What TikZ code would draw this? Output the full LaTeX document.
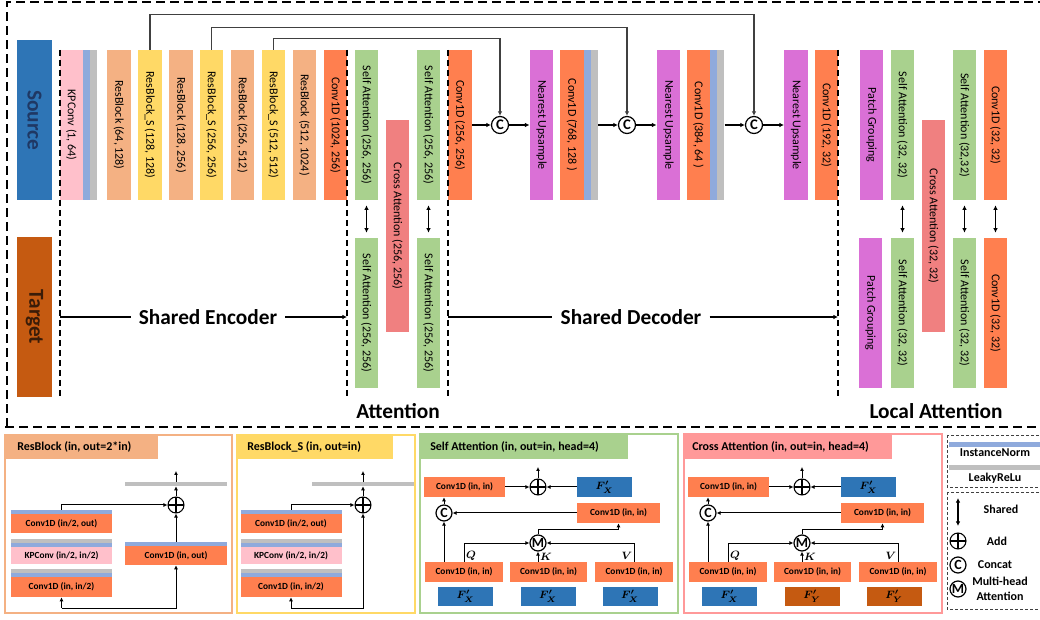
\documentclass[tikz,border=0pt]{standalone}
\usepackage{fontspec}
\setmainfont{Carlito}
\usepackage{graphicx}
\usetikzlibrary{arrows.meta,calc}
\newlength{\pxu}\setlength{\pxu}{0.75pt}
\definecolor{srcblue}{HTML}{2E75B6}
\definecolor{tgtbrown}{HTML}{C55A11}
\definecolor{kppink}{HTML}{FFC0CB}
\definecolor{rbor}{HTML}{F4B183}
\definecolor{rbyel}{HTML}{FFD966}
\definecolor{convor}{HTML}{FF7F4F}
\definecolor{attgr}{HTML}{A9D18E}
\definecolor{crossr}{HTML}{F08080}
\definecolor{upmag}{HTML}{DA70D6}
\definecolor{normbl}{HTML}{8FAADC}
\definecolor{relugr}{HTML}{BFBFBF}
\definecolor{crosspanel}{HTML}{FF9999}
\definecolor{srctext}{HTML}{1F3864}
\definecolor{tgttext}{HTML}{3A1C08}
\definecolor{skipgr}{HTML}{404040}
\tikzset{
 vb/.style={rectangle, inner sep=0pt, minimum width=23.5\pxu, minimum height=150\pxu, font=\fontsize{9}{10}\selectfont, text=black},
 vbx/.style={vb, minimum height=212\pxu},
 strip/.style={rectangle, inner sep=0pt, minimum width=7\pxu, minimum height=150\pxu},
 sidebox/.style={rectangle, inner sep=0pt, minimum width=35\pxu, minimum height=160\pxu, font=\bfseries\fontsize{16}{18}\selectfont},
 cc/.style={circle, draw, line width=0.9pt, minimum size=17\pxu, inner sep=0pt, font=\bfseries\fontsize{11}{11}\selectfont},
 ccs/.style={cc, minimum size=16\pxu, font=\bfseries\fontsize{10.5}{11}\selectfont},
 addc/.style={circle, draw, line width=0.8pt, minimum size=16\pxu, inner sep=0pt,
   path picture={\draw[line width=0.8pt] (path picture bounding box.north) -- (path picture bounding box.south) (path picture bounding box.west) -- (path picture bounding box.east);}},
 arr/.style={-{Latex[length=3.4pt,width=3.4pt]}, line width=0.8pt},
 sarr/.style={-{Latex[length=3pt,width=3pt]}, line width=0.75pt},
 skipl/.style={line width=0.8pt, draw=skipgr, -{Latex[length=3.4pt,width=3.4pt]}},
 dbl/.style={{Latex[length=3.4pt,width=3.4pt]}-{Latex[length=3.4pt,width=3.4pt]}, line width=0.9pt, shorten >=5\pxu, shorten <=5\pxu},
 outerd/.style={line width=1.5pt, dash pattern=on 6.75pt off 3.75pt},
 innerd/.style={line width=1pt, dash pattern=on 4.5pt off 3pt},
 legd/.style={line width=0.6pt, dash pattern=on 2.25pt off 1.5pt, draw=black!75},
 big/.style={font=\bfseries\fontsize{16}{18}\selectfont, inner sep=6pt},
 hb/.style={rectangle, inner sep=0pt, minimum height=19\pxu, font=\bfseries\fontsize{7}{8}\selectfont},
 thin/.style={rectangle, inner sep=0pt, minimum height=4\pxu, minimum width=101\pxu},
 hdr/.style={font=\bfseries\fontsize{9}{10}\selectfont, anchor=west, inner sep=0pt},
 fx/.style={rectangle, inner sep=0pt, minimum width=55\pxu, minimum height=19\pxu, font=\boldmath\fontsize{8}{9}\selectfont, text=black},
 leg/.style={font=\bfseries\fontsize{9}{11}\selectfont, align=center},
 qkv/.style={font=\boldmath\fontsize{8}{9}\selectfont, inner sep=0pt},
}
\begin{document}
\begin{tikzpicture}[x=0.75pt,y=-0.75pt]
\useasboundingbox (0,0) rectangle (1040,620);

% ---------------- top part ----------------
\node[sidebox, fill=srcblue, text=srctext] (src) at (34.5,120) {\rotatebox{-90}{Source}};
\node[sidebox, fill=tgtbrown, text=tgttext] (tgt) at (34.5,317) {\rotatebox{-90}{Target}};

\node[vb, fill=kppink] (kp) at (71.5,125) {\rotatebox{-90}{KPConv (1, 64)}};
\node[strip, fill=normbl] (kpn) at (86.75,125) {};
\node[strip, fill=relugr] (kpr) at (93.75,125) {};
\node[vb, fill=rbor] (rb1) at (119,125) {\rotatebox{-90}{ResBlock (64, 128)}};
\node[vb, fill=rbyel] (rbs1) at (150,125) {\rotatebox{-90}{ResBlock\_S (128, 128)}};
\node[vb, fill=rbor] (rb2) at (181,125) {\rotatebox{-90}{ResBlock (128, 256)}};
\node[vb, fill=rbyel] (rbs2) at (211.5,125) {\rotatebox{-90}{ResBlock\_S (256, 256)}};
\node[vb, fill=rbor] (rb3) at (242.5,125) {\rotatebox{-90}{ResBlock (256, 512)}};
\node[vb, fill=rbyel] (rbs3) at (273.5,125) {\rotatebox{-90}{ResBlock\_S (512, 512)}};
\node[vb, fill=rbor] (rb4) at (304.5,125) {\rotatebox{-90}{ResBlock (512, 1024)}};
\node[vb, fill=convor] (cv1) at (335.5,125) {\rotatebox{-90}{Conv1D (1024, 256)}};

\node[vb, fill=attgr] (sa1) at (366.5,125) {\rotatebox{-90}{Self Attention (256, 256)}};
\node[vb, fill=attgr] (sa1b) at (366.5,313) {\rotatebox{-90}{Self Attention (256, 256)}};
\node[vbx, fill=crossr] (ca1) at (397.5,226) {\rotatebox{-90}{Cross Attention (256, 256)}};
\node[vb, fill=attgr] (sa2) at (428.5,125) {\rotatebox{-90}{Self Attention (256, 256)}};
\node[vb, fill=attgr] (sa2b) at (428.5,313) {\rotatebox{-90}{Self Attention (256, 256)}};

\node[vb, fill=convor] (cv2) at (460,125) {\rotatebox{-90}{Conv1D (256, 256)}};
\node[cc] (cc1) at (500,125) {C};
\node[vb, fill=upmag] (up1) at (541.5,125) {\rotatebox{-90}{Nearest Upsample}};
\node[vb, fill=convor] (cv3) at (572,125) {\rotatebox{-90}{Conv1D (768, 128 )}};
\node[strip, fill=normbl] (cv3n) at (587.25,125) {};
\node[strip, fill=relugr] (cv3r) at (594.25,125) {};
\node[cc] (cc2) at (627,125) {C};
\node[vb, fill=upmag] (up2) at (668.5,125) {\rotatebox{-90}{Nearest Upsample}};
\node[vb, fill=convor] (cv4) at (698.5,125) {\rotatebox{-90}{Conv1D (384, 64 )}};
\node[strip, fill=normbl] (cv4n) at (713.75,125) {};
\node[strip, fill=relugr] (cv4r) at (720.75,125) {};
\node[cc] (cc3) at (754,125) {C};
\node[vb, fill=upmag] (up3) at (796,125) {\rotatebox{-90}{Nearest Upsample}};
\node[vb, fill=convor] (cv5) at (826.5,125) {\rotatebox{-90}{Conv1D (192, 32)}};

\node[vb, fill=upmag] (pg1) at (871.5,125) {\rotatebox{-90}{Patch Grouping}};
\node[vb, fill=upmag] (pg2) at (870.5,313) {\rotatebox{-90}{Patch Grouping}};
\node[vb, fill=attgr] (sa3) at (902.5,125) {\rotatebox{-90}{Self Attention (32, 32)}};
\node[vb, fill=attgr] (sa3b) at (902.5,313) {\rotatebox{-90}{Self Attention (32, 32)}};
\node[vbx, fill=crossr] (ca2) at (933.5,226) {\rotatebox{-90}{Cross Attention (32, 32)}};
\node[vb, fill=attgr] (sa4) at (964.5,125) {\rotatebox{-90}{Self Attention (32,32)}};
\node[vb, fill=attgr] (sa4b) at (964.5,313) {\rotatebox{-90}{Self Attention (32, 32)}};
\node[vb, fill=convor] (cv6) at (995.5,125) {\rotatebox{-90}{Conv1D (32, 32)}};
\node[vb, fill=convor] (cv6b) at (995.5,313) {\rotatebox{-90}{Conv1D (32, 32)}};

% decoder flow
\draw[arr] (cv2.east) -- (cc1.west);
\draw[arr] (cc1.east) -- (up1.west);
\draw[arr] (cv3r.east) -- (cc2.west);
\draw[arr] (cc2.east) -- (up2.west);
\draw[arr] (cv4r.east) -- (cc3.west);
\draw[arr] (cc3.east) -- (up3.west);

% skip connections
\draw[skipl] (rbs1.north) -- ++(0,-35) -| (cc3.north);
\draw[skipl] (rbs2.north) -- ++(0,-22) -| (cc2.north);
\draw[skipl] (rbs3.north) -- ++(0,-11) -| (cc1.north);

% shared arrows
\draw[dbl] (sa1.south) -- (sa1b.north);
\draw[dbl] (sa2.south) -- (sa2b.north);
\draw[dbl] (sa3.south) -- (sa3b.north);
\draw[dbl] (sa4.south) -- (sa4b.north);
\draw[dbl] (cv6.south) -- (cv6b.north);

% dashed separators
\draw[innerd] (60,50) -- (60,397);
\draw[innerd] (347,50) -- (347,397);
\draw[innerd] (448,50) -- (448,397);
\draw[innerd] (838,50) -- (838,397);

% labels
\node[big] (senc) at (208,317) {Shared Encoder};
\node[big] (sdec) at (631,317) {Shared Decoder};
\coordinate (e0) at (60,317);
\coordinate (e1) at (347,317);
\coordinate (d0) at (448,317);
\coordinate (d1) at (838,317);
\draw[line width=0.9pt] (e0) -- (senc.west);
\draw[arr, line width=0.9pt] (senc.east) -- (e1);
\draw[line width=0.9pt] (d0) -- (sdec.west);
\draw[arr, line width=0.9pt] (sdec.east) -- (d1);
\node[big, inner sep=0pt] (attl) at (398,411) {Attention};
\node[big, inner sep=0pt] (lattl) at (936,411) {Local Attention};

% outer dashed frame
\draw[outerd] (7,427) -- (7,2) -- (1040,2);
\draw[outerd] (5,427) -- (1040,427);

% ---------------- ResBlock panel ----------------
\draw[rbor, line width=1.5pt] (5,435) rectangle (232,613);
\fill[rbor] (5,435) rectangle (158,459);
\node[hdr] (h1) at (17,447) {ResBlock (in, out=2*in)};
\node[thin, fill=normbl] (p1c1n) at (61.5,512) {};
\node[hb, fill=convor, minimum width=101\pxu] (p1c1) at (61.5,523.5) {Conv1D (in/2, out)};
\node[thin, fill=relugr] (p1kr) at (61.5,541) {};
\node[thin, fill=normbl] (p1kn) at (61.5,545) {};
\node[hb, fill=kppink, minimum width=101\pxu, minimum height=17\pxu] (p1kp) at (61.5,555.5) {KPConv (in/2, in/2)};
\node[thin, fill=relugr] (p1c0r) at (61.5,571) {};
\node[thin, fill=normbl] (p1c0n) at (61.5,575) {};
\node[hb, fill=convor, minimum width=101\pxu, minimum height=20\pxu] (p1c0) at (61.5,587) {Conv1D (in, in/2)};
\node[thin, fill=normbl, minimum width=102\pxu] (p1crn) at (176,544) {};
\node[hb, fill=convor, minimum width=102\pxu] (p1cr) at (176,555.5) {Conv1D (in, out)};
\node[thin, fill=relugr, minimum width=102\pxu] (p1g) at (176,484) {};
\node[addc] (p1add) at (176,505) {};
\coordinate (p1in) at (61.5,608);
\coordinate (p1out) at (176,471);
\draw[sarr] (p1in) -- (p1c0.south);
\draw[sarr] (p1in) -| (p1cr.south);
\draw[sarr] (p1crn.north) -- (p1add.south);
\draw[sarr] (p1c1n.north) |- (p1add.west);
\draw[sarr] (p1add.north) -- (p1g.south);
\draw[sarr] (p1g.north) -- (p1out);

% ---------------- ResBlock_S panel ----------------
\draw[rbyel, line width=1.5pt] (237,435) rectangle (415,613);
\fill[rbyel] (237,435) rectangle (393,459);
\node[hdr] (h2) at (247,447) {ResBlock\_S (in, out=in)};
\node[thin, fill=normbl] (p2c1n) at (291,512) {};
\node[hb, fill=convor, minimum width=101\pxu] (p2c1) at (291,523.5) {Conv1D (in/2, out)};
\node[thin, fill=relugr] (p2kr) at (291,541) {};
\node[thin, fill=normbl] (p2kn) at (291,545) {};
\node[hb, fill=kppink, minimum width=101\pxu, minimum height=17\pxu] (p2kp) at (291,555.5) {KPConv (in/2, in/2)};
\node[thin, fill=relugr] (p2c0r) at (291,571) {};
\node[thin, fill=normbl] (p2c0n) at (291,575) {};
\node[hb, fill=convor, minimum width=101\pxu, minimum height=20\pxu] (p2c0) at (291,587) {Conv1D (in, in/2)};
\node[thin, fill=relugr, minimum width=102\pxu] (p2g) at (363,484) {};
\node[addc] (p2add) at (363,505) {};
\coordinate (p2in) at (291,608);
\coordinate (p2out) at (363,471);
\draw[sarr] (p2in) -- (p2c0.south);
\draw[sarr] (p2in) -| (p2add.south);
\draw[sarr] (p2c1n.north) |- (p2add.west);
\draw[sarr] (p2add.north) -- (p2g.south);
\draw[sarr] (p2g.north) -- (p2out);

% ---------------- Self Attention panel ----------------
\draw[attgr, line width=1.5pt] (420,434) rectangle (678,613);
\fill[attgr] (420,434) rectangle (628,459);
\node[hdr] (h3) at (430,447) {Self Attention (in, out=in, head=4)};
\node[hb, fill=convor, minimum width=81\pxu, minimum height=20\pxu] (so) at (464.5,487) {Conv1D (in, in)};
\node[addc] (sadd) at (538,487) {};
\node[fx, fill=srcblue, minimum height=20\pxu] (sfx) at (604.5,487) {$F'_X$};
\node[ccs] (sC) at (444,513) {C};
\node[hb, fill=convor, minimum width=83\pxu, minimum height=20\pxu] (smid) at (618.5,513) {Conv1D (in, in)};
\node[ccs] (sM) at (538,543) {M};
\node[hb, fill=convor, minimum width=78\pxu, minimum height=20\pxu] (sq) at (464,572) {Conv1D (in, in)};
\node[hb, fill=convor, minimum width=77\pxu, minimum height=20\pxu] (sk) at (548.5,572) {Conv1D (in, in)};
\node[hb, fill=convor, minimum width=78\pxu, minimum height=20\pxu] (sv) at (634,572) {Conv1D (in, in)};
\node[fx, fill=srcblue] (sx1) at (465.5,596) {$F'_X$};
\node[fx, fill=srcblue] (sx2) at (548,596) {$F'_X$};
\node[fx, fill=srcblue] (sx3) at (630,596) {$F'_X$};
\coordinate (sout) at (538,467);
\draw[sarr] (so.east) -- (sadd.west);
\draw[sarr] (sfx.west) -- (sadd.east);
\draw[sarr] (sadd.north) -- (sout);
\draw[sarr] (sC.north) -- (sC.north |- so.south);
\draw[sarr] (smid.west) -- (sC.east);
\draw[sarr] (sM.north) -- ++(0,-5) -| (smid.south);
\draw[sarr] (sC.south |- sq.north) -- (sC.south);
\draw[sarr] (sq.north) |- (sM.west);
\draw[sarr] (sM.south |- sk.north) -- (sM.south);
\draw[sarr] (sv.north) |- (sM.east);
\node[qkv] (sQl) at (471,556) {$Q$};
\node[qkv] (sKl) at (546,557) {$K$};
\node[qkv] (sVl) at (627,556) {$V$};

% ---------------- Cross Attention panel ----------------
\draw[crosspanel, line width=1.5pt] (684,434) rectangle (942,613);
\fill[crosspanel] (684,434) rectangle (892,459);
\node[hdr] (h4) at (692,447) {Cross Attention (in, out=in, head=4)};
\node[hb, fill=convor, minimum width=81\pxu, minimum height=20\pxu] (co) at (728.5,487) {Conv1D (in, in)};
\node[addc] (cadd) at (802,487) {};
\node[fx, fill=srcblue, minimum height=20\pxu] (cfx) at (868.5,487) {$F'_X$};
\node[ccs] (cC) at (708,513) {C};
\node[hb, fill=convor, minimum width=83\pxu, minimum height=20\pxu] (cmid) at (882.5,513) {Conv1D (in, in)};
\node[ccs] (cM) at (802,543) {M};
\node[hb, fill=convor, minimum width=78\pxu, minimum height=20\pxu] (cq) at (728,572) {Conv1D (in, in)};
\node[hb, fill=convor, minimum width=77\pxu, minimum height=20\pxu] (ck) at (812.5,572) {Conv1D (in, in)};
\node[hb, fill=convor, minimum width=78\pxu, minimum height=20\pxu] (cv) at (898,572) {Conv1D (in, in)};
\node[fx, fill=srcblue] (cx1) at (729.5,596) {$F'_X$};
\node[fx, fill=tgtbrown] (cy2) at (812,596) {$F'_Y$};
\node[fx, fill=tgtbrown] (cy3) at (894,596) {$F'_Y$};
\coordinate (cout) at (802,467);
\draw[sarr] (co.east) -- (cadd.west);
\draw[sarr] (cfx.west) -- (cadd.east);
\draw[sarr] (cadd.north) -- (cout);
\draw[sarr] (cC.north) -- (cC.north |- co.south);
\draw[sarr] (cmid.west) -- (cC.east);
\draw[sarr] (cM.north) -- ++(0,-5) -| (cmid.south);
\draw[sarr] (cC.south |- cq.north) -- (cC.south);
\draw[sarr] (cq.north) |- (cM.west);
\draw[sarr] (cM.south |- ck.north) -- (cM.south);
\draw[sarr] (cv.north) |- (cM.east);
\node[qkv] (cQl) at (735,556) {$Q$};
\node[qkv] (cKl) at (810,557) {$K$};
\node[qkv] (cVl) at (891,556) {$V$};

% ---------------- Legend ----------------
\draw[legd] (947,435) rectangle (1046,487);
\fill[normbl] (949,442) rectangle (1040,447);
\node[leg] (lin) at (995,453) {InstanceNorm};
\fill[relugr] (949,465) rectangle (1040,470);
\node[leg] (llr) at (995,478) {LeakyReLu};
\draw[legd] (947,492) rectangle (1046,609);
\coordinate (ls0) at (958,498);
\coordinate (ls1) at (958,526);
\draw[dbl, shorten >=0pt, shorten <=0pt] (ls0) -- (ls1);
\node[leg] (lsh) at (1001,509) {Shared};
\node[addc] (ladd) at (958,541) {};
\node[leg] (laddt) at (997,541) {Add};
\node[ccs] (lC) at (958,565) {C};
\node[leg] (lCt) at (995,565) {Concat};
\node[ccs] (lM) at (958,589) {M};
\node[leg] (lMt) at (1000,589) {Multi-head\\Attention};
\end{tikzpicture}
\end{document}
